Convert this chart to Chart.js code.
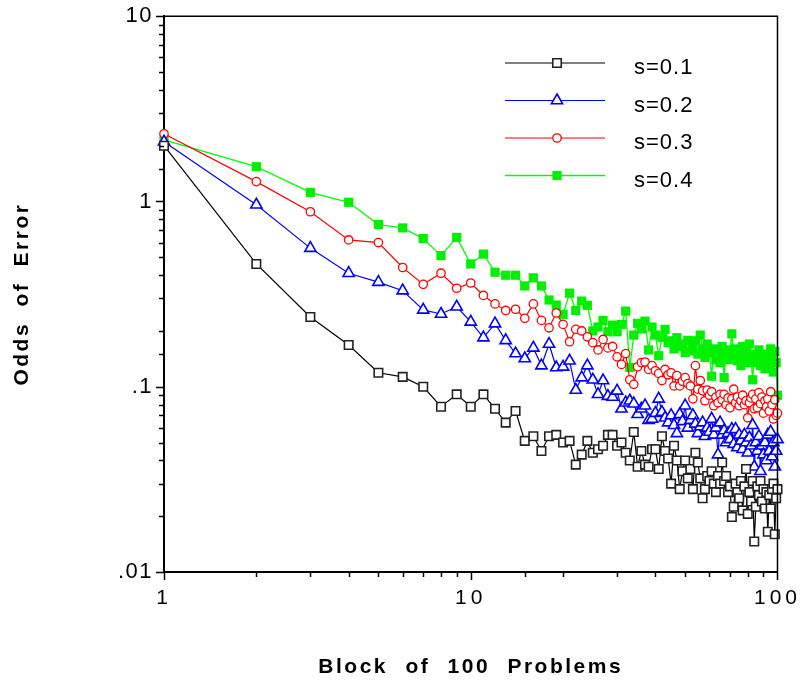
<!DOCTYPE html>
<html>
<head>
<meta charset="utf-8">
<script src="https://cdn.jsdelivr.net/npm/chart.js@4/dist/chart.umd.min.js"></script>
<style>
	body { margin: 0; background: #fff; }
	#wrap { width: 801px; height: 685px; }
</style>
</head>
<body>
<div id="wrap"><canvas id="oddsChart" width="801" height="685"></canvas></div>
<script>
/* data */
const blocks = Array.from({ length: 100 }, (_, i) => i + 1);

const seriesNames = ['s=0.1', 's=0.2', 's=0.3', 's=0.4'];

const odds01 = [
	2.0, 0.46, 0.238, 0.168, 0.119, 0.113, 0.1, 0.078, 0.091, 0.078,
	0.091, 0.076, 0.064, 0.074, 0.051, 0.054, 0.045, 0.054, 0.055, 0.050,
	0.051, 0.038, 0.043, 0.051, 0.044, 0.046, 0.048, 0.055, 0.055, 0.048,
	0.050, 0.044, 0.040, 0.057, 0.037, 0.045, 0.038, 0.037, 0.046, 0.046,
	0.036, 0.054, 0.045, 0.041, 0.030, 0.048, 0.040, 0.028, 0.035, 0.040,
	0.032, 0.036, 0.028, 0.044, 0.039, 0.032, 0.025, 0.028, 0.033, 0.031,
	0.035, 0.030, 0.027, 0.033, 0.030, 0.039, 0.031, 0.033, 0.027, 0.029,
	0.0198, 0.0225, 0.030, 0.027, 0.025, 0.031, 0.0215, 0.029, 0.036, 0.0206,
	0.027, 0.024, 0.031, 0.0146, 0.0225, 0.029, 0.026, 0.031, 0.024, 0.028,
	0.022, 0.027, 0.0165, 0.026, 0.022, 0.028, 0.030, 0.016, 0.025, 0.028
];

const odds02 = [
	2.1, 0.96, 0.56, 0.41, 0.367, 0.33, 0.26, 0.247, 0.27, 0.224,
	0.184, 0.219, 0.178, 0.151, 0.142, 0.162, 0.130, 0.170, 0.127, 0.128,
	0.138, 0.096, 0.112, 0.130, 0.109, 0.091, 0.108, 0.089, 0.088, 0.095,
	0.076, 0.082, 0.084, 0.081, 0.071, 0.076, 0.079, 0.066, 0.067, 0.072,
	0.086, 0.073, 0.068, 0.064, 0.070, 0.062, 0.056, 0.071, 0.065, 0.079,
	0.060, 0.066, 0.070, 0.063, 0.056, 0.061, 0.064, 0.054, 0.060, 0.057,
	0.067, 0.055, 0.060, 0.043, 0.064, 0.055, 0.058, 0.050, 0.056, 0.052,
	0.059, 0.049, 0.059, 0.047, 0.055, 0.051, 0.046, 0.055, 0.050, 0.044,
	0.053, 0.048, 0.062, 0.037, 0.050, 0.045, 0.054, 0.035, 0.048, 0.043,
	0.050, 0.040, 0.055, 0.045, 0.057, 0.042, 0.050, 0.037, 0.045, 0.052
];

const odds03 = [
	2.32, 1.28, 0.88, 0.62, 0.60, 0.44, 0.357, 0.41, 0.34, 0.363,
	0.311, 0.28, 0.258, 0.262, 0.234, 0.28, 0.228, 0.208, 0.25, 0.217,
	0.175, 0.204, 0.200, 0.186, 0.173, 0.158, 0.180, 0.162, 0.165, 0.145,
	0.132, 0.151, 0.109, 0.103, 0.128, 0.135, 0.136, 0.124, 0.130, 0.122,
	0.118, 0.108, 0.124, 0.116, 0.119, 0.101, 0.115, 0.101, 0.107, 0.112,
	0.104, 0.101, 0.086, 0.130, 0.097, 0.108, 0.095, 0.084, 0.096, 0.090,
	0.094, 0.079, 0.088, 0.082, 0.091, 0.085, 0.091, 0.080, 0.087, 0.077,
	0.086, 0.097, 0.082, 0.088, 0.079, 0.084, 0.090, 0.080, 0.084, 0.068,
	0.082, 0.087, 0.091, 0.076, 0.086, 0.077, 0.093, 0.081, 0.088, 0.072,
	0.084, 0.078, 0.086, 0.074, 0.094, 0.080, 0.067, 0.085, 0.070, 0.072
];

const odds04 = [
	2.15, 1.54, 1.12, 0.99, 0.75, 0.72, 0.63, 0.51, 0.64, 0.46,
	0.52, 0.415, 0.40, 0.40, 0.35, 0.387, 0.35, 0.294, 0.276, 0.246,
	0.32, 0.258, 0.29, 0.275, 0.20, 0.21, 0.228, 0.198, 0.215, 0.198,
	0.217, 0.256, 0.127, 0.19, 0.22, 0.205, 0.226, 0.158, 0.21, 0.19,
	0.147, 0.185, 0.204, 0.173, 0.177, 0.160, 0.184, 0.170, 0.165, 0.153,
	0.178, 0.156, 0.165, 0.177, 0.150, 0.190, 0.160, 0.144, 0.170, 0.152,
	0.114, 0.160, 0.140, 0.148, 0.135, 0.165, 0.112, 0.150, 0.140, 0.158,
	0.193, 0.145, 0.160, 0.138, 0.150, 0.130, 0.165, 0.142, 0.155, 0.135,
	0.170, 0.140, 0.109, 0.150, 0.135, 0.145, 0.158, 0.130, 0.140, 0.148,
	0.125, 0.150, 0.138, 0.130, 0.160, 0.140, 0.120, 0.155, 0.135, 0.090
];

const xTickValues = [1, 10, 100];
const xTickText = ['1', '10', '100'];
const yTickValues = [0.01, 0.1, 1, 10];
const yTickText = ['.01', '.1', '1', '10'];

const FONT = '"Liberation Sans", Arial, sans-serif';

function isDecade(v) {
	const e = Math.log10(v);
	return Math.abs(e - Math.round(e)) < 1e-6;
}

function decadeLabel(value, vals, texts) {
	if (!isDecade(value)) return '';
	const i = vals.findIndex(v => Math.abs(Math.log10(v) - Math.log10(value)) < 1e-6);
	return i >= 0 ? texts[i] : '';
}

function pairs(ys) {
	return blocks.map((b, i) => ({ x: b, y: ys[i] }));
}

// wrap a scale's draw step so its text gets the old spaced-out lettering
function spaced(scale, method, letters, words) {
	const orig = scale[method];
	if (orig._spaced) return;
	const f = function (...args) {
		const c = this.ctx;
		c.save();
		c.letterSpacing = letters;
		c.wordSpacing = words;
		orig.apply(this, args);
		c.restore();
	};
	f._spaced = true;
	scale[method] = f;
}

const spacedText = {
	id: 'spacedText',
	beforeDraw(chart) {
		const { x, y } = chart.scales;
		spaced(x, 'drawLabels', '4px', '0px');
		spaced(y, 'drawLabels', '1.5px', '0px');
		spaced(x, 'drawTitle', '2.5px', '9px');
		spaced(y, 'drawTitle', '2.5px', '7px');
	}
};

/* ticks: long at decades, short in between; frame on top and right */
const axisTicks = {
	id: 'axisTicks',
	afterDraw(chart) {
		const { ctx, chartArea: a, scales: { x, y } } = chart;
		ctx.save();
		ctx.strokeStyle = '#000';
		ctx.lineWidth = 1.5;
		ctx.beginPath();
		x.ticks.forEach(t => {
			const px = Math.round(x.getPixelForValue(t.value)) + 0.5;
			const len = isDecade(t.value) ? 8 : 5;
			ctx.moveTo(px, a.bottom);
			ctx.lineTo(px, a.bottom + len);
		});
		y.ticks.forEach(t => {
			const py = Math.round(y.getPixelForValue(t.value)) + 0.5;
			const len = isDecade(t.value) ? 8 : 5;
			ctx.moveTo(a.left, py);
			ctx.lineTo(a.left - len, py);
		});
		ctx.stroke();
		ctx.beginPath();
		ctx.moveTo(a.left, a.top);
		ctx.lineTo(a.right, a.top);
		ctx.lineTo(a.right, a.bottom);
		ctx.stroke();
		ctx.restore();
	}
};

/* legend inside the plot, long line with the marker in the middle */
const lineLegend = {
	id: 'lineLegend',
	afterDraw(chart) {
		const ctx = chart.ctx;
		const x0 = 505, x1 = 605, xm = 557, xt = 634, y0 = 63, gap = 37.5;
		ctx.save();
		ctx.letterSpacing = '1px';
		chart.data.datasets.forEach((ds, i) => {
			const yy = y0 + i * gap;
			ctx.strokeStyle = ds.borderColor;
			ctx.lineWidth = ds.borderWidth;
			ctx.beginPath();
			ctx.moveTo(x0, yy);
			ctx.lineTo(x1, yy);
			ctx.stroke();
			ctx.fillStyle = ds.pointBackgroundColor;
			ctx.strokeStyle = ds.pointBorderColor;
			ctx.lineWidth = ds.pointBorderWidth;
			Chart.helpers.drawPoint(ctx, {
				pointStyle: ds.pointStyle,
				radius: ds.pointRadius,
				borderWidth: ds.pointBorderWidth,
				rotation: 0
			}, xm, yy);
			ctx.fillStyle = '#000';
			ctx.font = '22px ' + FONT;
			ctx.textAlign = 'left';
			ctx.textBaseline = 'middle';
			ctx.fillText(ds.label, xt, yy + 5);
		});
		ctx.restore();
	}
};

const ctx = document.getElementById('oddsChart');

new Chart(ctx, {
	type: 'line',
	data: {
		datasets: [
			{
				label: seriesNames[0],
				data: pairs(odds01),
				borderColor: '#000000',
				borderWidth: 1.2,
				pointStyle: 'rect',
				pointRadius: 6,
				pointBorderWidth: 1.6,
				pointBorderColor: '#222222',
				pointBackgroundColor: '#ffffff'
			},
			{
				label: seriesNames[1],
				data: pairs(odds02),
				borderColor: '#0000ff',
				borderWidth: 1.2,
				pointStyle: 'triangle',
				pointRadius: 6.5,
				pointBorderWidth: 1.6,
				pointBorderColor: '#0000ff',
				pointBackgroundColor: '#ffffff'
			},
			{
				label: seriesNames[2],
				data: pairs(odds03),
				borderColor: '#ff0000',
				borderWidth: 1.2,
				pointStyle: 'circle',
				pointRadius: 4.2,
				pointBorderWidth: 1.3,
				pointBorderColor: '#ff0000',
				pointBackgroundColor: '#ffffff'
			},
			{
				label: seriesNames[3],
				data: pairs(odds04),
				borderColor: '#00ff00',
				borderWidth: 1.3,
				pointStyle: 'rect',
				pointRadius: 6.5,
				pointBorderWidth: 0,
				pointBorderColor: '#00f000',
				pointBackgroundColor: '#00f000'
			}
		]
	},
	options: {
		responsive: false,
		animation: false,
		devicePixelRatio: 1,
		clip: false,
		layout: { padding: { top: 13, right: 23, left: 0, bottom: 0 } },
		plugins: {
			legend: { display: false },
			tooltip: { enabled: false }
		},
		elements: { line: { tension: 0 } },
		scales: {
			x: {
				type: 'logarithmic',
				min: 1,
				max: 100,
				grid: { display: false, drawTicks: true, tickLength: 8 },
				border: { display: true, color: '#000', width: 2 },
				ticks: {
					autoSkip: false,
					maxRotation: 0,
					padding: 6,
					color: '#000',
					font: { family: FONT, size: 21 },
					callback: v => decadeLabel(v, xTickValues, xTickText)
				},
				title: {
					display: true,
					text: 'Block of 100 Problems',
					color: '#000',
					font: { family: FONT, size: 21, weight: 'bold' },
					padding: { top: 0, bottom: 5 }
				},
				afterFit: s => { s.height = 113; }
			},
			y: {
				type: 'logarithmic',
				min: 0.01,
				max: 10,
				grid: { display: false, drawTicks: true, tickLength: 8 },
				border: { display: true, color: '#000', width: 2 },
				ticks: {
					autoSkip: false,
					padding: 3,
					color: '#000',
					font: { family: FONT, size: 22 },
					callback: v => decadeLabel(v, yTickValues, yTickText)
				},
				title: {
					display: true,
					text: 'Odds of Error',
					color: '#000',
					font: { family: FONT, size: 21, weight: 'bold' },
					padding: { top: 10, bottom: 0 }
				},
				afterFit: s => { s.width = 164; }
			}
		}
	},
	plugins: [spacedText, axisTicks, lineLegend]
});
</script>
</body>
</html>
